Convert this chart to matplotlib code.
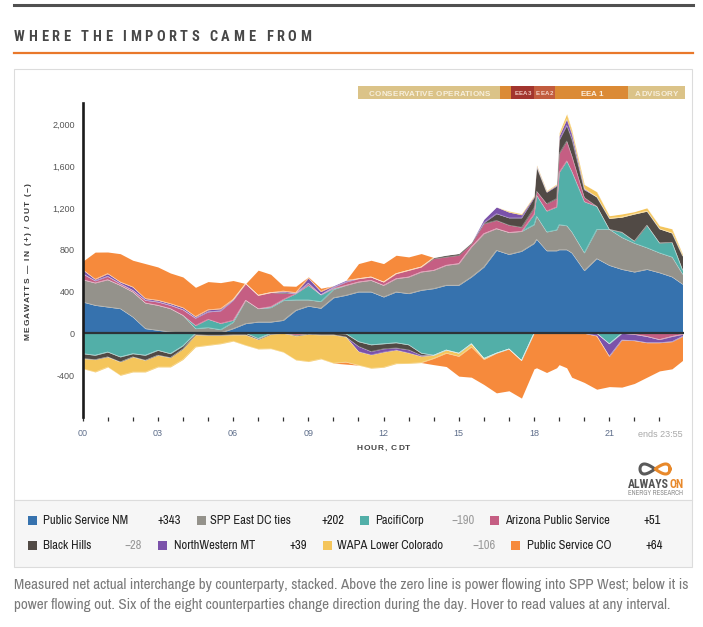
import numpy as np
import matplotlib
matplotlib.use("Agg")
import matplotlib.pyplot as plt
from matplotlib.font_manager import FontProperties, fontManager
from matplotlib.patches import Rectangle
from matplotlib.lines import Line2D
from matplotlib.transforms import blended_transform_factory

# ---------------- data ----------------
hours = [0.0, 0.5, 1.0, 1.5, 2.0, 2.5, 3.0, 3.5, 4.0, 4.5, 5.0, 5.5, 6.0, 6.5, 7.0, 7.5,
         8.0, 8.5, 9.0, 9.5, 10.0, 10.5, 11.0, 11.5, 12.0, 12.5, 13.0, 13.5, 14.0, 14.5,
         15.0, 15.5, 16.0, 16.5, 17.0, 17.5, 18.0, 18.1, 18.5, 18.9, 19.0, 19.3, 19.5,
         20.0, 20.5, 21.0, 21.5, 22.0, 22.5, 23.0, 23.5, 23.92]

public_service_nm = [300, 268, 252, 236, 156, 45, 29, 13, 3, 5, 5, 5, 45, 93, 108, 108,
                     124, 220, 260, 240, 340, 364, 396, 396, 348, 396, 380, 412, 428, 460,
                     460, 539, 635, 794, 755, 785, 860, 900, 790, 790, 800, 800, 770,
                     600, 715, 650, 612, 587, 612, 580, 540, 470]
spp_east_dc_ties = [213, 214, 261, 223, 240, 245, 239, 223, 169, 40, 50, 30, 60, 223, 128, 138,
                    190, 100, 60, 64, 80, 95, 95, 111, 111, 127, 159, 175, 175, 191,
                    207, 287, 319, 208, 210, 190, 180, 220, 180, 200, 240, 230, 200,
                    170, 280, 345, 305, 275, 207, 190, 190, 96]
pacificorp = [-195, -210, -179, -226, -195, -210, -163, -195, -120, 30, 80, 60, 20, 0, -50, 10,
              10, 60, 140, 64, 10, -5, -80, -110, -100, -90, -110, -190, -210, -160,
              -190, -100, -240, -190, -150, -260, 100, 200, 200, 220, 500, 620, 580,
              490, 220, -100, 50, 20, 215, 95, 140, 40]
arizona_public_service = [58, 20, 32, 16, 15, 26, 32, 32, 54, 70, 70, 120, 190, 160, 128, 134,
                          60, -15, 20, 0, 10, 32, 32, 32, 32, 48, 64, 48, 112, 80,
                          80, 32, 95, 79, 70, 40, 60, 40, 70, 80, 180, 190, 150,
                          40, 0, 0, 0, -10, -30, -60, -30, -10]
black_hills = [-47, -42, -47, -48, -31, -48, -47, -38, -30, -15, -20, -20, -15, -15, -10, -10,
               10, -10, -10, -15, -15, -30, -45, -64, -48, -50, -48, -20, 10, 16,
               16, 10, 10, 64, 70, 90, 100, 230, 110, 120, 130, 150, 160,
               75, 90, 105, 145, 260, 135, 135, 90, 135]
northwestern_mt = [38, 15, 26, 16, 32, 16, 16, 16, 19, 15, 20, 20, 10, 0, 0, 0,
                   10, 10, 50, 32, 15, 16, -50, -32, -32, -20, -30, -10, 0, 0,
                   0, 0, 32, 64, 55, 30, 10, 10, 5, 10, 40, 60, 50,
                   10, -25, -120, -65, -60, -60, -30, -50, -20]
wapa_lower_colorado = [-96, -118, -96, -128, -144, -112, -112, -89, -100, -115, -95, -80, -60, -100, -90, -137,
                       -180, -230, -260, -230, -270, -240, -130, -128, -145, -130, -100, -60, -30, -30,
                       -30, -30, -10, 0, 10, 10, 10, 10, 10, 10, 30, 50, 40,
                       40, 50, 25, 30, 22, 32, 30, 40, 16]
public_service_co = [80, 260, 207, 271, 256, 335, 319, 293, 294, 280, 270, 250, 180, 0, 240, 175,
                     50, 60, 10, 31, 0, -20, 144, 160, 176, 176, 128, 128, -60, -128,
                     -190, -290, -240, -380, -400, -360, -340, -330, -375, -330, -300, -330, -420,
                     -470, -510, -290, -450, -410, -330, -270, -260, -230]

series_names = ["Public Service NM", "SPP East DC ties", "PacifiCorp", "Arizona Public Service",
                "Black Hills", "NorthWestern MT", "WAPA Lower Colorado", "Public Service CO"]
series_values = [public_service_nm, spp_east_dc_ties, pacificorp, arizona_public_service,
                 black_hills, northwestern_mt, wapa_lower_colorado, public_service_co]
legend_values = [343, 202, -190, 51, -28, 39, -106, 64]

y_ticks = [-400, 0, 400, 800, 1200, 1600, 2000]
x_label_hours = [0, 3, 6, 9, 12, 15, 18, 21]

# status banner (start hour, end hour, label)
banner = [(11.0, 16.65, "CONSERVATIVE OPERATIONS", "cons"),
          (16.65, 17.1, "", "eea1"),
          (17.1, 18.0, "EEA3", "eea3"),
          (18.0, 18.84, "EEA2", "eea2"),
          (18.84, 21.75, "EEA 1", "eea1"),
          (21.75, 24.02, "ADVISORY", "cons")]

# ---------------- style ----------------
colors = ["#3672ae", "#94928b", "#52afa8", "#c55e83", "#514a45", "#7b52aa", "#f4c55b", "#f68a3c"]
banner_colors = {"cons": "#dbc388", "eea1": "#db8a35", "eea3": "#a2352e", "eea2": "#c25c3e"}

WEIGHTS = {"normal": 400, "regular": 400, "book": 400, "medium": 500, "semibold": 600,
           "demibold": 600, "bold": 700, "heavy": 800, "extra bold": 800, "black": 900}


def wnum(w):
    if isinstance(w, (int, float)):
        return int(w)
    return WEIGHTS.get(str(w).lower(), 400)


fams = {}
for f in fontManager.ttflist:
    fams.setdefault(f.name, set()).add(wnum(f.weight))

SANS = "Liberation Sans" if "Liberation Sans" in fams else "DejaVu Sans"
NARROW = SANS
for cand in ["Liberation Sans Narrow", "Archivo Narrow", "Roboto Condensed", "Asap Condensed",
             "Barlow Semi Condensed"]:
    if cand in fams:
        NARROW = cand
        break
NARROW_BOLD = SANS
for cand in ["Liberation Sans Narrow", "Archivo Narrow", "Roboto Condensed", "Asap Condensed",
             "Barlow Semi Condensed", "Barlow Condensed"]:
    if cand in fams and max(fams[cand]) >= 700:
        NARROW_BOLD = cand
        break

W, H = 703, 627
fig = plt.figure(figsize=(W / 100, H / 100), dpi=100)
fig.patch.set_facecolor("white")
renderer = fig.canvas.get_renderer()


def fx(x):
    return x / W


def fy(y):
    return 1 - y / H


def text_w(s, fp):
    w, h, d = renderer.get_text_width_height_descent(s, fp, ismath=False)
    return w


def tracked(x0, base, s, width, size, color, family=SANS, weight="bold", rotation=0):
    fp = FontProperties(family=family, size=size, weight=weight)
    n = len(s)
    total = text_w(s, fp)
    track = (width - total) / (n - 1) if n > 1 else 0
    for i, ch in enumerate(s):
        if ch == " ":
            continue
        off = text_w(s[:i + 1], fp) - text_w(ch, fp) + i * track
        if rotation == 0:
            fig.text(fx(x0 + off), fy(base), ch, fontproperties=fp, color=color,
                     ha="left", va="baseline")
        else:
            fig.text(fx(base), fy(x0 - off), ch, fontproperties=fp, color=color,
                     ha="left", va="baseline", rotation=90, rotation_mode="anchor")


def fit_size(s, width, family, weight="normal", size0=10):
    fp = FontProperties(family=family, size=size0, weight=weight)
    return size0 * width / text_w(s, fp)


# ---------------- frame elements ----------------
fig.add_artist(Line2D([fx(14), fx(693)], [fy(5), fy(5)], lw=2.2, color="#505050"))
tracked(14, 41, "WHERE THE IMPORTS CAME FROM", 297, 10.4, "#474747", family=NARROW_BOLD)
fig.add_artist(Line2D([fx(14), fx(693)], [fy(53), fy(53)], lw=1.6, color="#e9782b"))

fig.add_artist(Rectangle((fx(14), fy(500)), (692 - 14) / W, (500 - 69) / H,
                         transform=fig.transFigure, facecolor="white",
                         edgecolor="#dcdcdc", lw=0.8, zorder=-2))
fig.add_artist(Rectangle((fx(14), fy(567)), (692 - 14) / W, (567 - 500) / H,
                         transform=fig.transFigure, facecolor="#f6f6f6",
                         edgecolor="#dcdcdc", lw=0.8, zorder=-2))

# ---------------- chart ----------------
ax = fig.add_axes([fx(82.6), fy(416.9), (684.5 - 82.6) / W, (416.9 - 103.4) / H])
ax.patch.set_visible(False)
ax.set_xlim(0, 24)
ax.set_ylim(-800, 2200)

vals = np.array(series_values, dtype=float)
t = np.array(hours)
pos = np.clip(vals, 0, None)
neg = np.clip(vals, None, 0)
pos_cum = np.cumsum(pos, axis=0)
neg_cum = np.cumsum(neg, axis=0)
for i in range(len(series_names)):
    ax.fill_between(t, pos_cum[i] - pos[i], pos_cum[i], color=colors[i], lw=0, zorder=2)
    ax.fill_between(t, neg_cum[i] - neg[i], neg_cum[i], color=colors[i], lw=0, zorder=2)
for i in range(len(series_names) - 1):
    ax.plot(t, pos_cum[i], color="white", lw=0.5, alpha=0.35, zorder=3)
    ax.plot(t, neg_cum[i], color="white", lw=0.5, alpha=0.35, zorder=3)

ax.axhline(0, color="#2d3338", lw=1.6, zorder=4)

for side in ["top", "right", "bottom"]:
    ax.spines[side].set_visible(False)
ax.spines["left"].set_linewidth(1.9)
ax.spines["left"].set_color("#1b1b1b")
ax.spines["left"].set_zorder(5)

ax.set_yticks(y_ticks)
ax.set_yticklabels([f"{v:,}" for v in y_ticks], fontfamily=SANS)
ax.tick_params(axis="y", length=0, pad=5.5, labelsize=6.5, labelcolor="#555555")

ax.set_xticks(x_label_hours)
ax.set_xticklabels([f"{h:02d}" for h in x_label_hours], fontfamily=SANS)
ax.set_xticks([h for h in range(1, 24) if h % 3 != 0], minor=True)
ax.tick_params(axis="x", which="both", length=3, width=0.9, color="#333333",
               pad=6, labelsize=6.5, labelcolor="#5d6d8a")
ax.text(23.92, -0.042, "ends 23:55", transform=blended_transform_factory(ax.transData, ax.transAxes),
        ha="right", va="top", fontsize=6.5, color="#a8a8a8", fontfamily=SANS)

# banner
btr = blended_transform_factory(ax.transData, ax.transAxes)
b0 = 1 + (103.4 - 99.3) / 313.5
b1 = 1 + (103.4 - 86.0) / 313.5
for s, e, lab, kind in banner:
    ax.add_patch(Rectangle((s, b0), e - s, b1 - b0, transform=btr,
                           facecolor=banner_colors[kind], lw=0, clip_on=False))
banner_text = {"CONSERVATIVE OPERATIONS": (122, 5.8, "#f7efdc"),
               "EEA3": (17, 4.4, "#f0c8c0"),
               "EEA2": (17, 4.4, "#f3d2c6"),
               "EEA 1": (22, 5.8, "#fbeede"),
               "ADVISORY": (43, 5.8, "#f7efdc")}
for s, e, lab, kind in banner:
    if not lab:
        continue
    wdt, sz, col = banner_text[lab]
    cx = ax.transData.transform(((s + e) / 2, 0))[0]
    base = 95.7 if sz > 5 else 95.0
    tracked(cx - wdt / 2, base, lab, wdt, sz, col, family=SANS)

# axis titles
tracked(356.7, 449.8, "HOUR, CDT", 53.3, 6.0, "#444444", family=SANS)
tracked(340, 30.0, "MEGAWATTS — IN (+) / OUT (−)", 157, 6.0, "#3a3a3a", family=SANS, rotation=90)

# logo
tt = np.linspace(0, 2 * np.pi, 200)
lx = 655 + 15 * np.cos(tt)
ly = 469 - 5 * np.sin(2 * tt)
half = np.cos(tt) < 0
fig.add_artist(Line2D(fx(lx[half]), fy(ly[half]), lw=2.2, color="#5a5a5a"))
fig.add_artist(Line2D(fx(lx[~half]), fy(ly[~half]), lw=2.2, color="#e8892b"))
lsz = fit_size("ALWAYSON", 55, NARROW_BOLD, "bold")
fp_logo = FontProperties(family=NARROW_BOLD, size=lsz, weight="bold")
wa = text_w("ALWAYS", fp_logo)
fig.text(fx(628), fy(488.5), "ALWAYS", fontproperties=fp_logo, color="#555555", va="baseline")
fig.text(fx(628 + wa + 0.8), fy(488.5), "ON", fontproperties=fp_logo, color="#e8892b", va="baseline")
esz = fit_size("ENERGY RESEARCH", 55, NARROW)
fig.text(fx(628), fy(495), "ENERGY RESEARCH", fontsize=esz, family=NARROW,
         color="#8a8a8a", va="baseline")

# ---------------- legend ----------------
leg_sz = fit_size("Arizona Public Service", 105.7, NARROW)
rows_y = [520.8, 545.5]
sq_x = [27.8, 196.7, 359.6, 490.0, 27.8, 158.0, 322.8, 511.0]
name_x = [43.2, 210.4, 375.0, 504.7, 43.2, 173.7, 337.4, 527.0]
val_x = [157.3, 321.0, 451.0, 643.6, 124.2, 289.6, 472.4, 645.0]
for i, nm in enumerate(series_names):
    yc = rows_y[i // 4]
    fig.add_artist(Rectangle((fx(sq_x[i]), fy(yc + 4.5)), 9 / W, 9 / H,
                             transform=fig.transFigure, facecolor=colors[i], lw=0))
    fig.text(fx(name_x[i]), fy(yc), nm, fontsize=leg_sz, family=NARROW,
             color="#222222", va="center", ha="left")
    v = legend_values[i]
    vs = f"+{v}" if v > 0 else f"\u2212{abs(v)}"
    fig.text(fx(val_x[i]), fy(yc), vs, fontsize=leg_sz, family=NARROW,
             color="#1a1a1a" if v > 0 else "#9a9a9a", va="center", ha="left")

# ---------------- caption ----------------
cap1 = ("Measured net actual interchange by counterparty, stacked. Above the zero line is "
        "power flowing into SPP West; below it is")
cap2 = ("power flowing out. Six of the eight counterparties change direction during the day. "
        "Hover to read values at any interval.")
cap_sz = fit_size(cap1, 676, NARROW)
fig.text(fx(14), fy(584.5), cap1, fontsize=cap_sz, family=NARROW, color="#7a7a7a", va="center")
fig.text(fx(14), fy(605.5), cap2, fontsize=cap_sz, family=NARROW, color="#7a7a7a", va="center")

fig.savefig("out.png", dpi=100, facecolor="white")
